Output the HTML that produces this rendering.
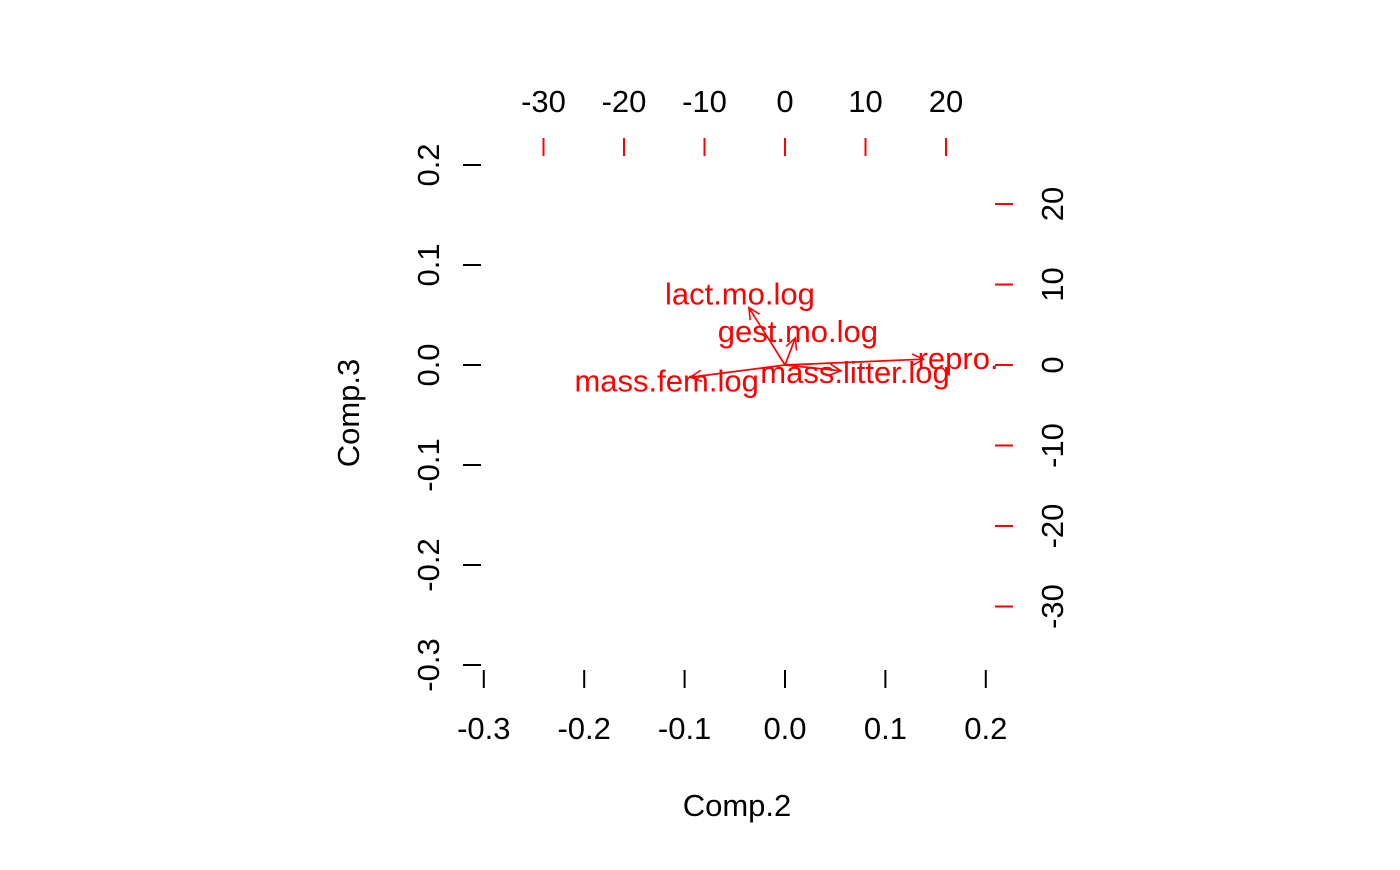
<!DOCTYPE html>
<html><head><meta charset="utf-8"><style>
body{margin:0;background:#fff}
svg text{font-family:"Liberation Sans",Arial,sans-serif}
</style></head><body>
<svg id="c" width="1400" height="865" viewBox="0 0 1400 865" xmlns="http://www.w3.org/2000/svg">
<defs><marker id="ah" markerWidth="14" markerHeight="14" refX="0" refY="0" viewBox="-13 -7 15 14" orient="auto" markerUnits="userSpaceOnUse"><path d="M-12,-6 L0,0 L-12,6" fill="none" stroke="red" stroke-width="1.7"/></marker></defs>
</svg>
<script>
const ticksBottom=[-0.3,-0.2,-0.1,0.0,0.1,0.2];
const ticksLeft=[-0.3,-0.2,-0.1,0.0,0.1,0.2];
const ticksTop=[-30,-20,-10,0,10,20];
const ticksRight=[-30,-20,-10,0,10,20];
const varNames=["lact.mo.log","gest.mo.log","mass.fem.log","mass.litter.log","repro."];
const loadX=[-5.6,1.6,-14.7,8.7,21.5];
const loadY=[8.9,4.2,-1.9,-0.9,0.9];
const arrowScale=0.8;

const FS=31;
const sx=v=>785+v*1004, sy=v=>365-v*1000;
const rx=v=>785+v*8.05, ry=v=>365-v*8.05;
const svg=document.getElementById('c');
const NS='http://www.w3.org/2000/svg';
function mk(tag,attrs,parent){const e=document.createElementNS(NS,tag);for(const k in attrs)e.setAttribute(k,attrs[k]);(parent||svg).appendChild(e);return e;}
function fmt(v){return v===0?"0.0":v.toFixed(1);}

ticksBottom.forEach(v=>{
 const l=mk('line',{x1:sx(v),x2:sx(v),y1:670,y2:688,stroke:'#000','stroke-width':2});
 
 
 const t=mk('text',{x:sx(v),y:739,'font-size':FS,'text-anchor':'middle'});t.textContent=fmt(v);
 
 
});
ticksLeft.forEach(v=>{
 const l=mk('line',{x1:463,x2:481,y1:sy(v),y2:sy(v),stroke:'#000','stroke-width':2});
 
 
 const t=mk('text',{x:0,y:0,'font-size':FS,'text-anchor':'middle',transform:`translate(439,${sy(v)}) rotate(-90)`});t.textContent=fmt(v);
 
 
});
ticksTop.forEach(v=>{
 const l=mk('line',{x1:rx(v),x2:rx(v),y1:138,y2:156,stroke:'red','stroke-width':2});
 
 
 const t=mk('text',{x:rx(v),y:112,'font-size':FS,'text-anchor':'middle'});t.textContent=String(v);
 
 
});
ticksRight.forEach(v=>{
 const l=mk('line',{x1:995,x2:1013,y1:ry(v),y2:ry(v),stroke:'red','stroke-width':2});
 
 
 const t=mk('text',{x:0,y:0,'font-size':FS,'text-anchor':'middle',transform:`translate(1063,${ry(v)}) rotate(-90)`});t.textContent=String(v);
 
 
});
varNames.forEach((n,i)=>{
 const a=mk('line',{x1:rx(0),y1:ry(0),x2:rx(loadX[i]*arrowScale),y2:ry(loadY[i]*arrowScale),stroke:'red','stroke-width':1.7,'marker-end':'url(#ah)'});
 
 
 const t=mk('text',{x:rx(loadX[i]),y:ry(loadY[i])+11,'font-size':FS,'text-anchor':'middle',fill:'red'});t.textContent=n;
 
 
});
const xt=mk('text',{x:737,y:816,'font-size':FS,'text-anchor':'middle'});xt.textContent='Comp.2';


const yt=mk('text',{x:0,y:0,'font-size':FS,'text-anchor':'middle',transform:'translate(359,413) rotate(-90)'});yt.textContent='Comp.3';


</script>
</body></html>
